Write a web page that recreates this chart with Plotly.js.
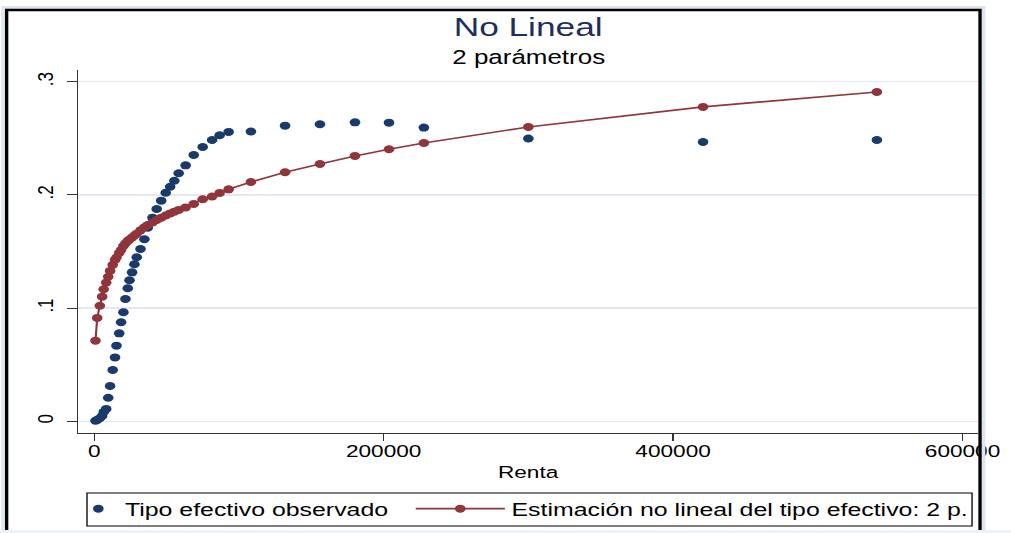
<!DOCTYPE html>
<html>
<head>
<meta charset="utf-8">
<script src="https://cdn.plot.ly/plotly-3.0.1.min.js"></script>
<style>
html,body{margin:0;padding:0;background:#fff;overflow:hidden;}
#plot{width:760px;height:533px;transform:scaleX(1.3303);transform-origin:0 0;}
</style>
</head>
<body>
<div id="plot"></div>
<script>
// Renta (x) and effective tax rates
const renta = [900, 2100, 3900, 5500, 6600, 8300, 9700, 11000, 12800, 14400,
  15400, 17300, 18600, 20200, 21600, 23200, 24400, 26200, 27800, 29400,
  32000, 34700, 37000, 40300, 43200, 46300, 49400, 52500, 55400, 58400,
  63200, 68800, 75000, 81500, 86700, 92900, 108300, 131900, 156000, 180200,
  203700, 227800, 300000, 420700, 540800];
const tipoObservado = [0.0005, 0.0013, 0.0027, 0.0047, 0.0082, 0.0109, 0.0208, 0.0312, 0.0453, 0.0564,
  0.0668, 0.0777, 0.0875, 0.0963, 0.108, 0.1175, 0.1246, 0.1316, 0.1387, 0.1449,
  0.1522, 0.1608, 0.171, 0.1799, 0.1875, 0.1949, 0.2019, 0.2072, 0.2125, 0.2191,
  0.2261, 0.2352, 0.2423, 0.2485, 0.2527, 0.2556, 0.256, 0.2611, 0.2624, 0.2641,
  0.2638, 0.2594, 0.2498, 0.2467, 0.2485];
const tipoEstimado = [0.0712, 0.0913, 0.1021, 0.1101, 0.1166, 0.1225, 0.1277, 0.1328, 0.1381, 0.1425,
  0.1447, 0.1487, 0.1513, 0.1549, 0.1571, 0.1593, 0.1606, 0.1624, 0.1641, 0.1657,
  0.1687, 0.1714, 0.1734, 0.1756, 0.1778, 0.1799, 0.1818, 0.1836, 0.1852, 0.1867,
  0.1889, 0.192, 0.1961, 0.1986, 0.2017, 0.2049, 0.2114, 0.22, 0.2273, 0.2344,
  0.2403, 0.2458, 0.26, 0.2777, 0.2909];

const xTickVals = [0, 200000, 400000, 600000];
const xTickText = ['0', '200000', '400000', '600000'];
const yTickVals = [0, 0.1, 0.2, 0.3];
const yTickText = ['0', '.1', '.2', '.3'];

const FONT = 'Liberation Sans, Arial, Helvetica, sans-serif';
const BLUE = '#1a3a6c';
const RED = '#90353b';

const traces = [
  {
    x: renta, y: tipoObservado, type: 'scatter', mode: 'markers',
    name: 'Tipo efectivo observado',
    marker: {color: BLUE, size: 8, line: {width: 0}},
    legend: 'legend'
  },
  {
    x: renta, y: tipoEstimado, type: 'scatter', mode: 'lines+markers',
    name: 'Estimación no lineal del tipo efectivo: 2 p.',
    line: {color: RED, width: 1.6},
    marker: {color: RED, size: 8, line: {width: 0}},
    legend: 'legend2'
  }
];

const layout = {
  width: 760, height: 533,
  margin: {l: 59, r: 25, t: 70, b: 100, autoexpand: false},
  paper_bgcolor: '#ffffff',
  plot_bgcolor: '#ffffff',
  font: {family: FONT, color: '#000'},
  title: {
    text: 'No Lineal',
    font: {family: FONT, size: 26.5, color: '#1e2f5e'},
    x: 0.5, xref: 'paper', xanchor: 'center',
    y: 0.949, yref: 'container', yanchor: 'middle'
  },
  annotations: [
    {text: '2 parámetros', xref: 'paper', yref: 'paper', x: 0.5, y: 1.037,
     xanchor: 'center', yanchor: 'middle', showarrow: false,
     font: {family: FONT, size: 19.5, color: '#000'}}
  ],
  xaxis: {
    range: [-10840, 610520],
    tickmode: 'array', tickvals: xTickVals, ticktext: xTickText,
    ticks: 'outside', ticklen: 7, tickcolor: '#333', tickwidth: 1,
    ticklabelstandoff: -4,
    showline: true, linecolor: '#333', linewidth: 1,
    showgrid: false, zeroline: false,
    tickfont: {family: FONT, size: 17, color: '#000'},
    title: {text: 'Renta', font: {family: FONT, size: 17, color: '#000'}, standoff: 5},
    automargin: false
  },
  yaxis: {
    range: [-0.01034, 0.3103],
    tickmode: 'array', tickvals: yTickVals, ticktext: yTickText,
    ticks: 'outside', ticklen: 7.5, tickcolor: '#333', tickwidth: 1,
    tickangle: -90, ticklabelstandoff: 4,
    showline: true, linecolor: '#333', linewidth: 1,
    showgrid: true, gridcolor: '#e3e8f2', gridwidth: 1.5,
    zeroline: false,
    tickfont: {family: FONT, size: 17, color: '#000'},
    automargin: false
  },
  showlegend: true,
  legend: {
    orientation: 'h', x: -0.0075, xanchor: 'left', y: -0.157, yanchor: 'top',
    bgcolor: 'rgba(0,0,0,0)', borderwidth: 0,
    font: {family: FONT, size: 18.7, color: '#000'}, itemwidth: 30
  },
  legend2: {
    orientation: 'h', x: (307.5 - 59) / 676, xanchor: 'left', y: -0.157, yanchor: 'top',
    bgcolor: 'rgba(0,0,0,0)', borderwidth: 0,
    font: {family: FONT, size: 18.7, color: '#000'}, itemwidth: 67
  },
  shapes: [
    // legend box
    {type: 'rect', xref: 'paper', yref: 'paper',
     x0: (65.4 - 59) / 676, x1: (730.7 - 59) / 676,
     y0: (433 - 526) / 363, y1: (433 - 493) / 363,
     line: {color: '#000', width: 1}, fillcolor: 'rgba(0,0,0,0)', layer: 'above'},
    // light outer band
    {type: 'rect', xref: 'paper', yref: 'paper',
     x0: (2.5 - 59) / 676, x1: (739.2 - 59) / 676,
     y0: (433 - 545) / 363, y1: (433 - 7.5) / 363,
     line: {color: '#dfe4ee', width: 3}, fillcolor: 'rgba(0,0,0,0)', layer: 'above'},
    // black frame
    {type: 'rect', xref: 'paper', yref: 'paper',
     x0: (5 - 59) / 676, x1: (736.7 - 59) / 676,
     y0: (433 - 540) / 363, y1: (433 - 10) / 363,
     line: {color: '#000', width: 2.5}, fillcolor: 'rgba(0,0,0,0)', layer: 'above'},
    // bottom light strip
    {type: 'rect', xref: 'paper', yref: 'paper',
     x0: (0 - 59) / 676, x1: (760 - 59) / 676,
     y0: (433 - 540) / 363, y1: (433 - 530) / 363,
     line: {width: 0}, fillcolor: '#eef1f6', layer: 'above'}
  ]
};

Plotly.newPlot('plot', traces, layout, {staticPlot: true, displayModeBar: false});
</script>
</body>
</html>
